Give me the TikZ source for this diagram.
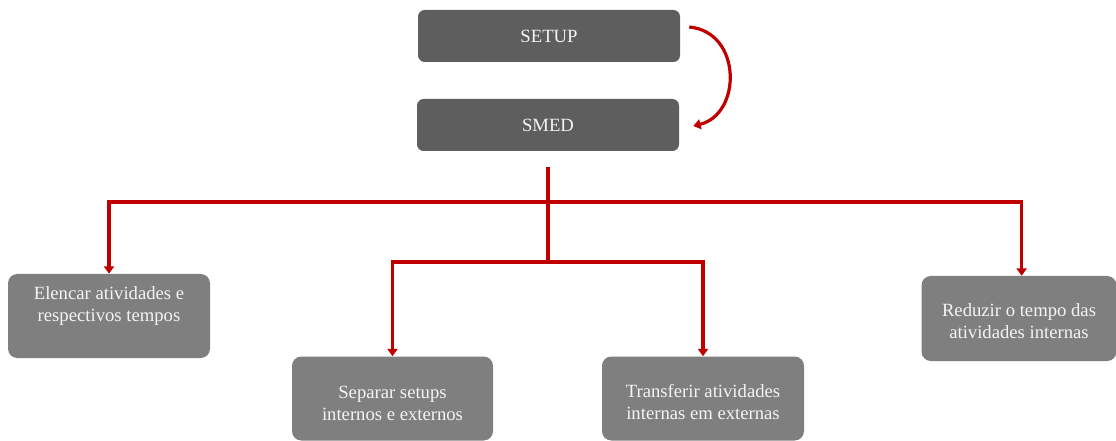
\documentclass[tikz,border=0pt]{standalone}
\usepackage{fontspec}
\setmainfont{Liberation Serif}
\usetikzlibrary{arrows.meta,calc}

\definecolor{topgray}{HTML}{5E5E5E}
\definecolor{boxgray}{HTML}{7F7F7F}
\definecolor{boxtext}{HTML}{F4F4F4}
\definecolor{linkred}{HTML}{C00000}

% strut that pushes a two-line label down by #1
\newcommand\dropby[1]{\rule{0pt}{\dimexpr 9.7pt+2\dimexpr #1\relax\relax}}

\tikzset{
  px/.style={x=0.75pt,y=-0.75pt},
  topbox/.style={rectangle, rounded corners=5pt, fill=topgray, text=boxtext,
    minimum width={262*0.75pt}, minimum height={52*0.75pt}, inner sep=0pt,
    font=\fontsize{14}{16.5}\selectfont},
  taskbox/.style={rectangle, rounded corners=7pt, fill=boxgray, text=boxtext,
    minimum width={202*0.75pt}, minimum height={84*0.75pt}, inner sep=0pt,
    align=center, font=\fontsize{14}{16.5}\selectfont},
  link/.style={draw=linkred, line width=2.4pt},
  linkarrow/.style={link, -{Triangle[width=7.5pt,length=5.5pt]}},
}

\begin{document}
\begin{tikzpicture}[px]
\useasboundingbox (0,0) rectangle (1116,441);

% top of the hierarchy
\node[topbox] (setup) at (549,36) {SETUP};
\node[topbox] (smed) at (548,125) {SMED};

% SMED steps
\node[taskbox] (elencar) at (109,316) {Elencar atividades e\\respectivos tempos\\[2pt]~};
\node[taskbox, minimum width={201*0.75pt}] (separar) at (392.5,398.5) {\dropby{3.5pt}Separar setups\\internos e externos};
\node[taskbox] (transferir) at (703,398.5) {\dropby{2.5pt}Transferir atividades\\internas em externas};
\node[taskbox, minimum width={195*0.75pt}, minimum height={85*0.75pt}] (reduzir) at (1019,318.5) {\dropby{2pt}Reduzir o tempo das\\atividades internas};

% curved link SETUP -> SMED
\coordinate (cstart) at ($(setup.east)+(9,-9)$);
\coordinate (cend) at ($(smed.east)+(14,1)$);
\draw[linkarrow] (cstart) .. controls (742,32) and (742,114) .. (cend);

% tree of connectors below SMED
\coordinate (trunktop) at (548,167);
\coordinate (bus1) at (548,202);
\coordinate (bus2) at (548,262);
\draw[link] (trunktop) -- (bus2);
\draw[linkarrow] (bus1) -| (elencar.north);
\draw[linkarrow] (bus1) -| ([xshift=2pt]reduzir.north);
\draw[linkarrow] (bus2) -| (separar.north);
\draw[linkarrow] (bus2) -| (transferir.north);
\end{tikzpicture}
\end{document}
